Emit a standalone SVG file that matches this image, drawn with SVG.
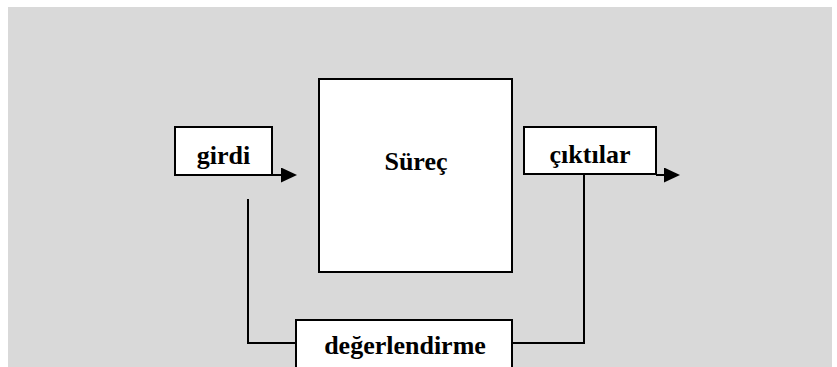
<svg xmlns="http://www.w3.org/2000/svg" width="837" height="367" viewBox="0 0 837 367">
  <style>
    .box { fill: #ffffff; stroke: #000000; stroke-width: 2; }
    .lbl { font-family: "Liberation Serif", "Times New Roman", serif; font-weight: bold; font-size: 26px; fill: #000000; text-anchor: middle; }
    .wire { fill: none; stroke: #000000; stroke-width: 2; }
  </style>
  <defs>
    <marker id="arrow" markerWidth="16" markerHeight="15" refX="0" refY="7.5" orient="auto" markerUnits="userSpaceOnUse">
      <path d="M0,0 L16,7.5 L0,15 Z" fill="#000000"/>
    </marker>
  </defs>

  <!-- page background -->
  <rect x="8" y="7" width="824" height="362" fill="#d9d9d9"/>

  <g id="connectors">
    <!-- input arrow into the process -->
    <line class="wire" x1="272" y1="175" x2="281" y2="175" marker-end="url(#arrow)"/>
    <!-- output arrow -->
    <line class="wire" x1="656" y1="175" x2="664" y2="175" marker-end="url(#arrow)"/>
    <!-- feedback loop: outputs -> evaluation -> inputs -->
    <polyline class="wire" points="584,174 584,343 512,343"/>
    <polyline class="wire" points="296,343 248,343 248,199"/>
  </g>

  <g id="girdi">
    <rect class="box" x="175" y="127" width="97" height="48"/>
    <text class="lbl" x="223.5" y="164">girdi</text>
  </g>

  <g id="surec">
    <rect class="box" x="319" y="79" width="193" height="193"/>
    <text class="lbl" x="416" y="170">Süreç</text>
  </g>

  <g id="ciktilar">
    <rect class="box" x="524" y="127" width="132" height="47"/>
    <text class="lbl" x="590" y="163">çıktılar</text>
  </g>

  <g id="degerlendirme">
    <rect class="box" x="296" y="320" width="216" height="60"/>
    <text class="lbl" x="405" y="354">değerlendirme</text>
  </g>
</svg>
